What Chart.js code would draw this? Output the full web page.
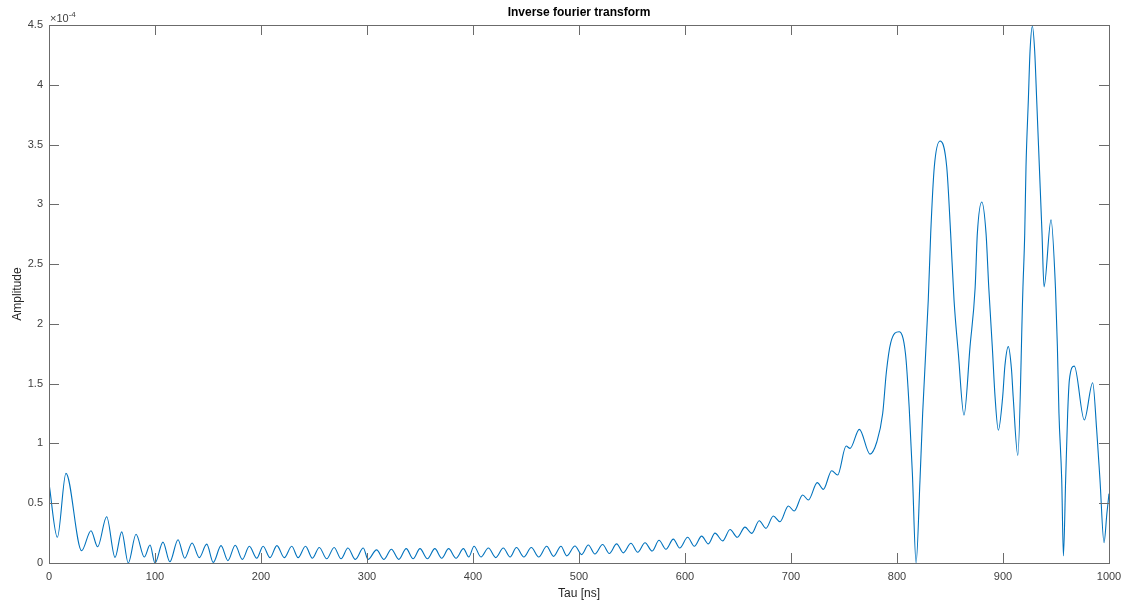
<!DOCTYPE html>
<html>
<head>
<meta charset="utf-8">
<title>Inverse fourier transform</title>
<script src="https://cdn.jsdelivr.net/npm/chart.js@4.4.1/dist/chart.umd.min.js"></script>
<style>
  html, body { margin: 0; padding: 0; background: #fff; }
  #wrap { width: 1129px; height: 608px; }
</style>
</head>
<body>
<div id="wrap"><canvas id="chart" width="1129" height="608"></canvas></div>
<script>
// tau in ns, amplitude in units of 1e-4 (at peaks, troughs and flanks)
const tau = [
  0, 7.9, 16, 30.8, 39.6, 45.9, 54.4, 62.3, 68.6, 74.8,
  82.1, 89.9, 95.3, 100, 107.5, 114, 121.7, 128, 135, 141.8,
  148.8, 155, 162.3, 168.8, 175.7, 182.4, 189, 196, 202, 208.5,
  215, 222, 229, 235, 242, 248.5,
  255, 262, 269, 275.5, 282, 289, 296.5, 301, 309, 316,
  323, 330, 337, 343.5, 350, 357, 364, 370.5, 377, 384,
  391, 396, 401, 407.5, 414.5, 421.5, 428.6, 435, 441, 448,
  455, 462, 469.5, 476, 483, 488.4,
  496.2, 502.5, 508.8, 515, 522.3, 528.6, 535.5, 541.8, 549, 555.4,
  562.3, 569, 575.5, 582, 589, 595, 602.5, 608.8, 615.7, 622,
  628.3, 635.5, 642.5, 649.3, 656.6, 663, 670, 676.4, 683.3, 689.6,
  697.5, 703, 711, 716.4, 724.8, 730.5, 738.4, 744, 752, 755.7,
  764.5, 774.5, 781, 786.5, 790, 794, 802, 808, 811.5, 814.5,
  818, 821.7, 824.2, 829.5, 831.8, 835.2, 840.6, 846.9, 850.6, 853.8,
  857.9, 863.2, 868.9, 873.7, 875.8, 880, 884, 886.6, 889.9, 892.5,
  895.6, 899.7, 901.8, 905, 908, 909.6, 914, 918.8, 920.5, 921.7,
  923.9, 925.5, 927.7, 929.9, 931.8, 934.3, 936.8, 938.7, 945.3, 949.5,
  951.3, 952.8, 955.4, 957, 959.1, 961, 962.6, 967.3, 976.7, 984.6,
  988.4, 991.5, 995.3, 998, 1000
];
const amplitude = [
  0.666, 0.215, 0.75, 0.103, 0.27, 0.136, 0.387, 0.047, 0.26, 0.0,
  0.24, 0.05, 0.15, 0.0, 0.175, 0.01, 0.195, 0.04, 0.167, 0.045,
  0.158, 0.005, 0.145, 0.02, 0.148, 0.03, 0.14, 0.04, 0.14, 0.045,
  0.145, 0.045, 0.14, 0.045, 0.14, 0.04,
  0.13, 0.035, 0.13, 0.035, 0.125, 0.03, 0.125, 0.03, 0.11, 0.03,
  0.115, 0.03, 0.12, 0.035, 0.12, 0.035, 0.12, 0.04, 0.12, 0.04,
  0.12, 0.05, 0.14, 0.05, 0.125, 0.045, 0.125, 0.05, 0.13, 0.05,
  0.13, 0.05, 0.14, 0.055, 0.14, 0.06,
  0.142, 0.07, 0.15, 0.075, 0.155, 0.08, 0.16, 0.085, 0.165, 0.09,
  0.17, 0.1, 0.19, 0.115, 0.2, 0.125, 0.215, 0.14, 0.225, 0.16,
  0.25, 0.185, 0.28, 0.215, 0.30, 0.248, 0.354, 0.29, 0.393, 0.345,
  0.477, 0.435, 0.569, 0.527, 0.672, 0.616, 0.772, 0.736, 0.978, 0.959,
  1.118, 0.911, 1.014, 1.25, 1.6, 1.84, 1.934, 1.75, 1.3, 0.75,
  0.0, 0.694, 1.25, 2.2, 2.757, 3.314, 3.53, 3.314, 2.757, 2.2,
  1.75, 1.237, 1.81, 2.3, 2.757, 3.02, 2.757, 2.3, 1.81, 1.39,
  1.11, 1.39, 1.65, 1.81, 1.62, 1.39, 0.9, 2.3, 2.757, 3.314,
  3.87, 4.28, 4.49, 4.28, 3.87, 3.314, 2.757, 2.31, 2.87, 2.3,
  1.81, 1.25, 0.694, 0.06, 0.694, 1.25, 1.53, 1.647, 1.196, 1.508,
  1.11, 0.694, 0.17, 0.414, 0.58
];
const xTicks = [0, 100, 200, 300, 400, 500, 600, 700, 800, 900, 1000];
const yTicks = [0, 0.5, 1, 1.5, 2, 2.5, 3, 3.5, 4, 4.5];

const FONT = 'Liberation Sans, Arial, Helvetica, sans-serif';

// box, inward tick marks, title and exponent label (MATLAB style)
const matlabAxes = {
  id: 'matlabAxes',
  afterDatasetsDraw(chart) {
    const { ctx, chartArea: a, scales: { x, y } } = chart;
    ctx.save();
    ctx.strokeStyle = '#6b6b6b';
    ctx.lineWidth = 1;
    ctx.beginPath();
    xTicks.forEach(v => {
      const px = Math.round(x.getPixelForValue(v)) + 0.5;
      ctx.moveTo(px, a.bottom); ctx.lineTo(px, a.bottom - 10);
      ctx.moveTo(px, a.top); ctx.lineTo(px, a.top + 10);
    });
    yTicks.forEach(v => {
      const py = Math.round(y.getPixelForValue(v)) + 0.5;
      ctx.moveTo(a.left, py); ctx.lineTo(a.left + 10, py);
      ctx.moveTo(a.right, py); ctx.lineTo(a.right - 10, py);
    });
    ctx.stroke();
    ctx.strokeRect(Math.round(a.left) + 0.5, Math.round(a.top) + 0.5,
      Math.round(a.right - a.left), Math.round(a.bottom - a.top));

    ctx.fillStyle = '#000';
    ctx.font = 'bold 12px ' + FONT;
    ctx.textAlign = 'center';
    ctx.textBaseline = 'alphabetic';
    ctx.fillText('Inverse fourier transform', (a.left + a.right) / 2, 16);

    ctx.fillStyle = '#404040';
    ctx.textAlign = 'left';
    ctx.font = '11px ' + FONT;
    ctx.fillText('\u00d710', a.left + 1, 22);
    const w = ctx.measureText('\u00d710').width;
    ctx.font = '8px ' + FONT;
    ctx.fillText('-4', a.left + 1 + w, 17);
    ctx.restore();
  }
};

new Chart(document.querySelector('#chart'), {
  type: 'line',
  data: {
    datasets: [{
      data: tau.map((t, i) => ({ x: t, y: amplitude[i] })),
      borderColor: '#0072BD',
      borderWidth: 1.1,
      pointRadius: 0,
      cubicInterpolationMode: 'monotone',
      fill: false
    }]
  },
  options: {
    responsive: false,
    animation: false,
    layout: { padding: { top: 25, right: 20, left: 0, bottom: 0 } },
    plugins: { legend: { display: false }, tooltip: { enabled: false } },
    scales: {
      x: {
        type: 'linear',
        min: 0,
        max: 1000,
        afterBuildTicks: s => { s.ticks = xTicks.map(v => ({ value: v })); },
        afterFit: s => { s.height = 45; },
        grid: { display: false, drawTicks: false },
        border: { display: false },
        ticks: {
          padding: 7,
          maxRotation: 0,
          color: '#404040',
          font: { family: FONT, size: 11 },
          callback: v => String(v)
        },
        title: {
          display: true,
          text: 'Tau [ns]',
          color: '#262626',
          font: { family: FONT, size: 12 },
          padding: { top: 0, bottom: 7 }
        }
      },
      y: {
        min: 0,
        max: 4.5,
        afterBuildTicks: s => { s.ticks = yTicks.map(v => ({ value: v })); },
        afterFit: s => { s.width = 49; },
        grid: { display: false, drawTicks: false },
        border: { display: false },
        ticks: {
          padding: 6,
          color: '#404040',
          font: { family: FONT, size: 11 },
          callback: v => String(v)
        },
        title: {
          display: true,
          text: 'Amplitude',
          color: '#262626',
          font: { family: FONT, size: 12 },
          padding: { top: 10, bottom: 0 }
        }
      }
    }
  },
  plugins: [matlabAxes]
});
</script>
</body>
</html>
